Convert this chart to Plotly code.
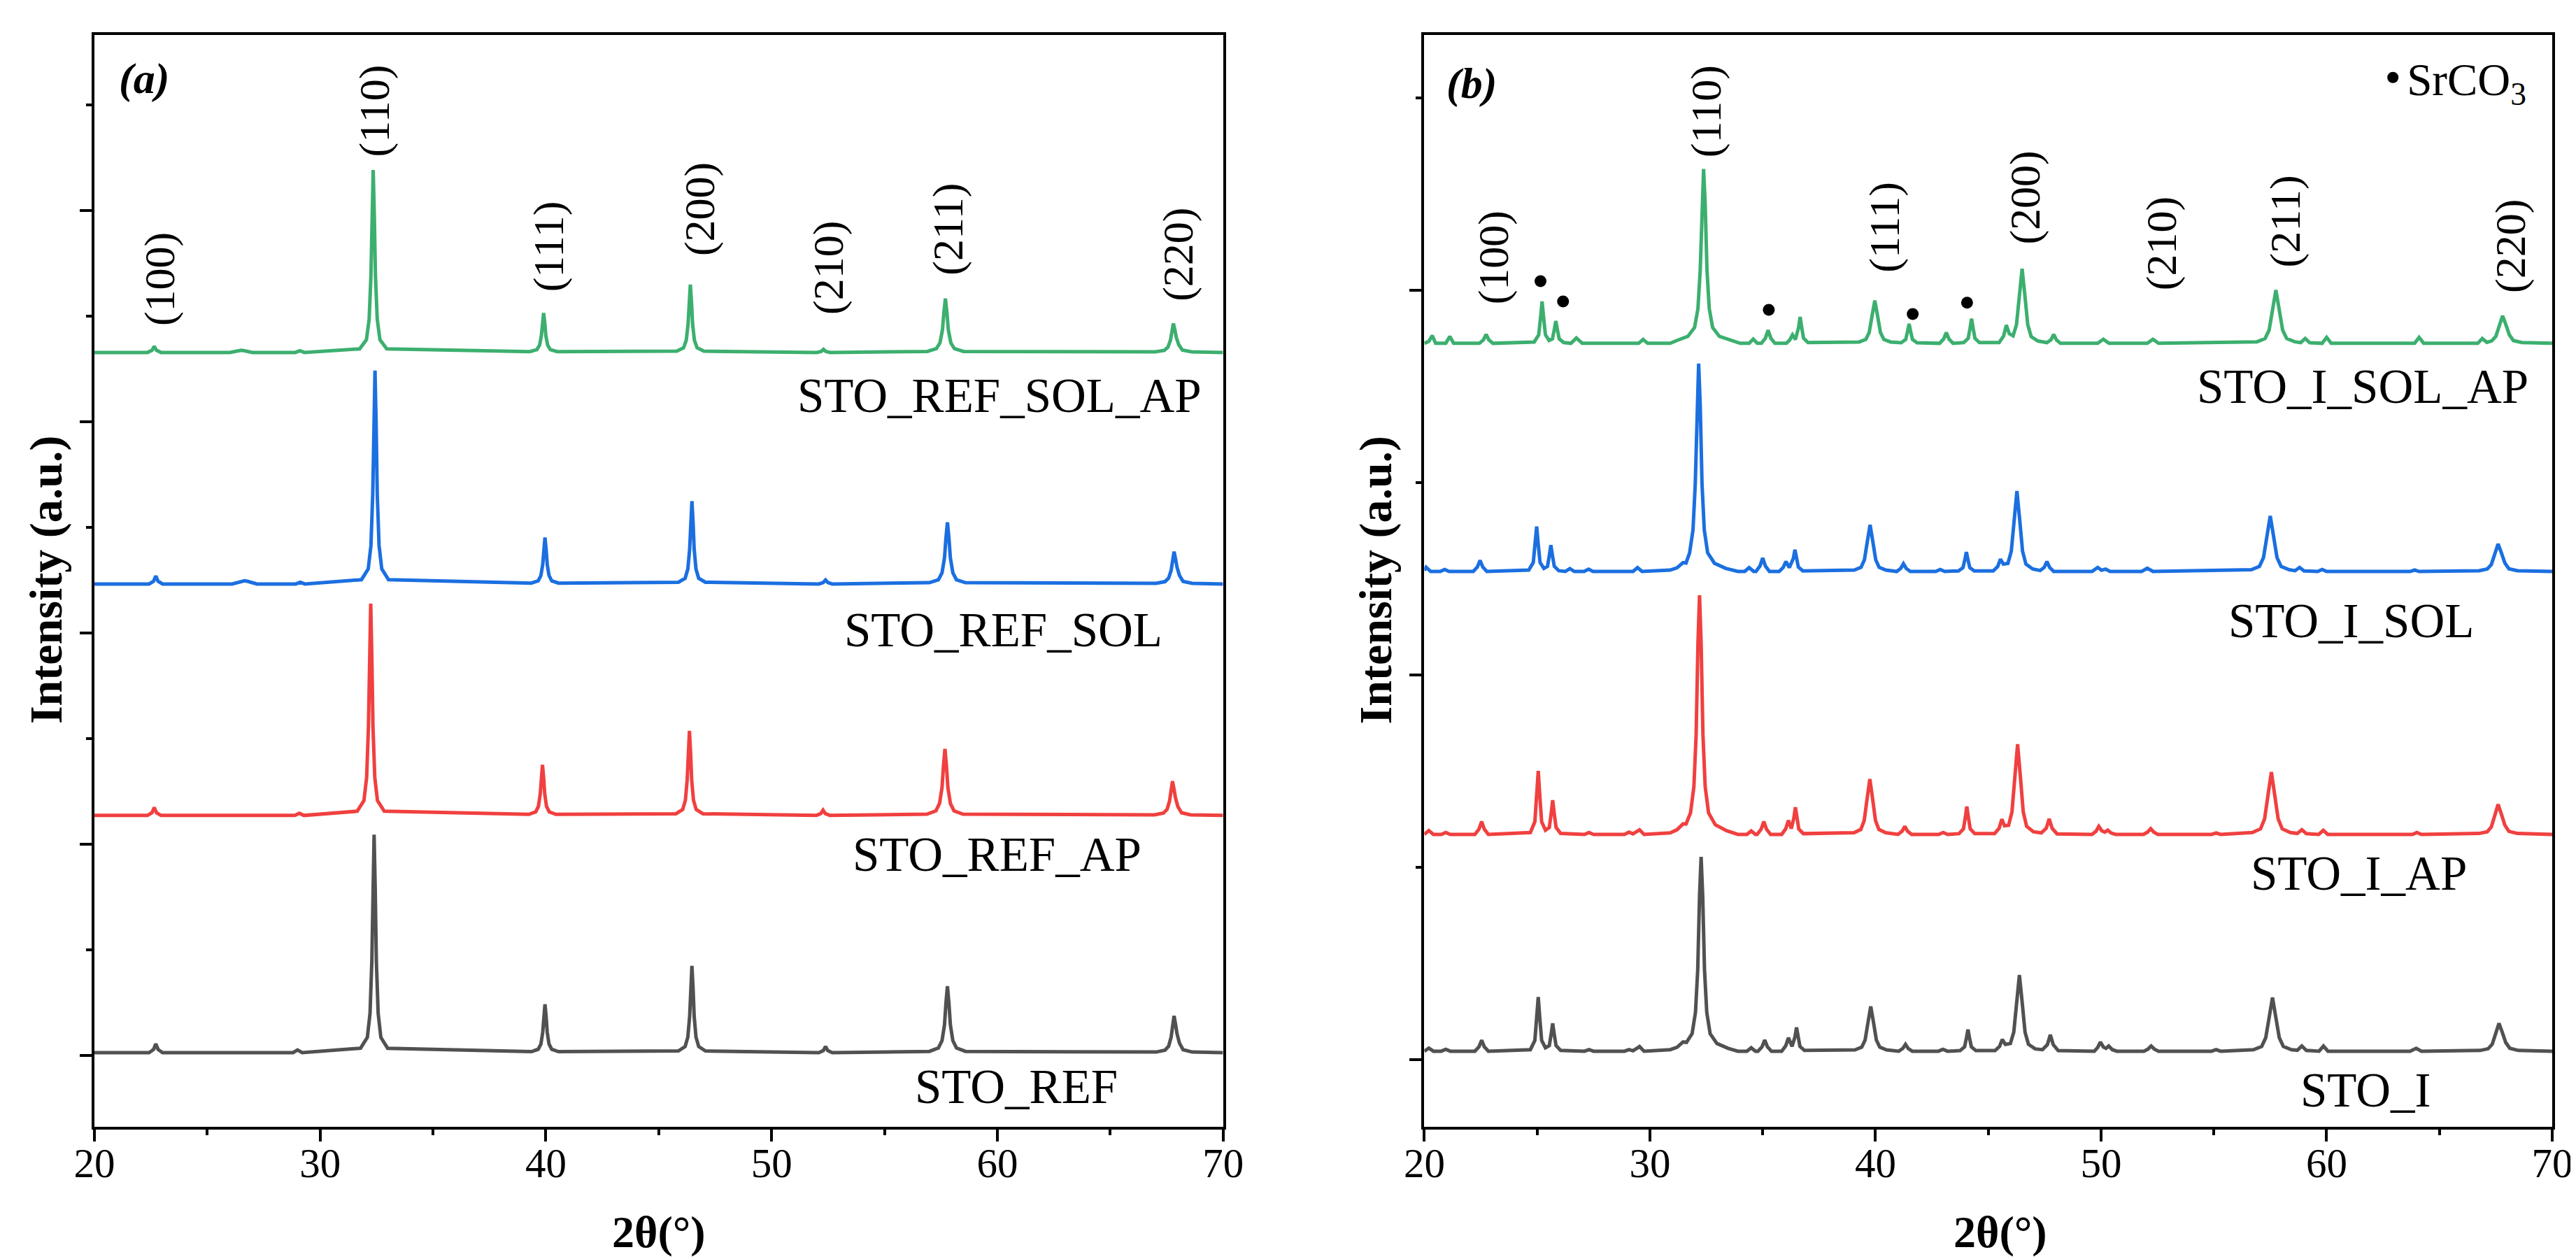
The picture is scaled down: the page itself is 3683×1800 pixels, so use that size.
import plotly.graph_objects as go

# ---------------- data ----------------
# panel (a): 2theta / intensity above each curve's own baseline
ref_x = [20.0, 22.42, 22.62, 22.72, 22.82, 23.02,
         28.8, 29.0, 29.2,
         31.79, 32.09, 32.21, 32.29, 32.34, 32.39, 32.44, 32.49, 32.57, 32.69, 32.99,
         39.36, 39.66, 39.78, 39.86, 39.91, 39.96, 40.01, 40.06, 40.14, 40.26, 40.56,
         45.87, 46.17, 46.29, 46.37, 46.42, 46.47, 46.52, 46.57, 46.65, 46.77, 47.07,
         52.09, 52.29, 52.39, 52.49, 52.69,
         56.99, 57.39, 57.55, 57.66, 57.725, 57.79, 57.855, 57.92, 58.03, 58.19, 58.59,
         67.03, 67.43, 67.59, 67.70, 67.765, 67.83, 67.895, 67.96, 68.07, 68.23, 68.63,
         70.0]
ref_y = [0, 0, 15, 42, 15, 0,
         0, 13, 0,
         21, 72, 186, 433, 774, 1032, 774, 433, 186, 72, 21,
         5, 16, 41, 96, 172, 229, 172, 96, 41, 16, 5,
         8, 29, 74, 173, 308, 411, 308, 173, 74, 29, 8,
         0, 10, 29, 10, 0,
         6, 22, 57, 132, 236, 315, 236, 132, 57, 22, 6,
         3, 12, 31, 73, 130, 174, 135, 90, 45, 14, 3,
         0]

ref_ap_x = [20.0, 22.35, 22.55, 22.65, 22.75, 22.95,
            28.88, 29.08, 29.28,
            31.64, 31.94, 32.06, 32.14, 32.19, 32.24, 32.29, 32.34, 32.42, 32.54, 32.84,
            39.25, 39.55, 39.67, 39.75, 39.80, 39.85, 39.90, 39.95, 40.03, 40.15, 40.45,
            45.76, 46.06, 46.18, 46.26, 46.31, 46.36, 46.41, 46.46, 46.54, 46.66, 46.96,
            51.98, 52.18, 52.28, 52.38, 52.58,
            56.88, 57.28, 57.44, 57.55, 57.615, 57.68, 57.745, 57.81, 57.92, 58.08, 58.48,
            66.96, 67.36, 67.52, 67.63, 67.695, 67.76, 67.825, 67.89, 68.00, 68.16, 68.56,
            70.0]
ref_ap_y = [0, 0, 13, 38, 13, 0,
            0, 10, 0,
            20, 70, 181, 421, 752, 1003, 752, 421, 181, 70, 20,
            5, 17, 43, 101, 180, 240, 180, 101, 43, 17, 5,
            8, 28, 72, 168, 301, 401, 301, 168, 72, 28, 8,
            0, 9, 25, 9, 0,
            6, 22, 57, 132, 236, 315, 236, 132, 57, 22, 6,
            3, 11, 29, 68, 122, 162, 126, 84, 42, 13, 3,
            0]

ref_sol_x = [20.0, 22.42, 22.62, 22.72, 22.82, 23.02,
             26.1, 26.5, 26.65, 26.8, 27.2,
             28.92, 29.12, 29.32,
             31.83, 32.13, 32.25, 32.33, 32.38, 32.43, 32.48, 32.53, 32.61, 32.73, 33.03,
             39.36, 39.66, 39.78, 39.86, 39.91, 39.96, 40.01, 40.06, 40.14, 40.26, 40.56,
             45.87, 46.17, 46.29, 46.37, 46.42, 46.47, 46.52, 46.57, 46.65, 46.77, 47.07,
             52.09, 52.29, 52.39, 52.49, 52.69,
             56.99, 57.39, 57.55, 57.66, 57.725, 57.79, 57.855, 57.92, 58.03, 58.19, 58.59,
             67.03, 67.43, 67.59, 67.70, 67.765, 67.83, 67.895, 67.96, 68.07, 68.23, 68.63,
             70.0]
ref_sol_y = [0, 0, 13, 38, 13, 0,
             0, 12, 15, 12, 0,
             0, 8, 0,
             20, 71, 182, 424, 758, 1010, 758, 424, 182, 71, 20,
             4, 15, 40, 92, 165, 220, 165, 92, 40, 15, 4,
             8, 27, 71, 165, 294, 392, 294, 165, 71, 27, 8,
             0, 7, 19, 7, 0,
             6, 20, 53, 123, 219, 292, 219, 123, 53, 20, 6,
             3, 11, 28, 64, 115, 153, 119, 79, 40, 12, 3,
             0]

ref_sol_ap_x = [20.0, 22.35, 22.55, 22.65, 22.75, 22.95,
                26.0, 26.35, 26.5, 26.65, 27.0,
                28.9, 29.1, 29.3,
                31.75, 32.05, 32.17, 32.25, 32.30, 32.35, 32.40, 32.45, 32.53, 32.65, 32.95,
                39.30, 39.60, 39.72, 39.80, 39.85, 39.90, 39.95, 40.00, 40.08, 40.20, 40.50,
                45.80, 46.10, 46.22, 46.30, 46.35, 46.40, 46.45, 46.50, 46.58, 46.70, 47.00,
                52.00, 52.20, 52.30, 52.40, 52.60,
                56.90, 57.30, 57.46, 57.57, 57.635, 57.70, 57.765, 57.83, 57.94, 58.10, 58.50,
                67.00, 67.40, 67.56, 67.67, 67.735, 67.80, 67.865, 67.93, 68.04, 68.20, 68.60,
                70.0]
ref_sol_ap_y = [0, 0, 10, 29, 10, 0,
                0, 8, 10, 8, 0,
                0, 8, 0,
                17, 60, 156, 363, 648, 864, 648, 363, 156, 60, 17,
                4, 13, 34, 79, 140, 187, 140, 79, 34, 13, 4,
                6, 22, 58, 135, 241, 321, 241, 135, 58, 22, 6,
                0, 5, 15, 5, 0,
                5, 18, 46, 107, 191, 255, 191, 107, 46, 18, 5,
                3, 10, 25, 58, 103, 137, 107, 71, 36, 11, 3,
                0]

# panel (b)
i_x = [20.0, 20.2, 20.4, 20.75, 20.95, 21.15, 22.24, 22.42, 22.54, 22.66, 22.84,
       24.70, 24.90, 24.98, 25.05, 25.12, 25.20, 25.37, 25.54, 25.62, 25.69, 25.76, 25.84, 26.04,
       27.1, 27.3, 27.5, 28.87, 29.07, 29.25, 29.54, 29.74,
       30.9, 31.2, 31.47, 31.62, 31.87, 32.02, 32.12, 32.2, 32.27, 32.34, 32.42, 32.52, 32.67, 32.97, 33.47, 33.9,
       34.3, 34.49, 34.68, 34.79, 34.97, 35.09, 35.21, 35.39,
       35.84, 36.02, 36.14, 36.3, 36.43, 36.5, 36.57, 36.65, 36.85,
       39.09, 39.39, 39.54, 39.67, 39.79, 39.91, 40.04, 40.19, 40.49,
       41.03, 41.21, 41.33, 41.45, 41.63, 42.79, 42.99, 43.19,
       43.75, 43.95, 44.03, 44.1, 44.17, 44.25, 44.45,
       45.3, 45.5, 45.62, 45.76, 45.98, 46.13, 46.26, 46.38, 46.50, 46.63, 46.78, 47.08,
       47.4, 47.62, 47.75, 47.88, 48.1,
       49.7, 49.85, 49.97, 50.1, 50.22, 50.34, 50.5, 50.7,
       51.9, 52.08, 52.22, 52.36, 52.55, 54.9, 55.1, 55.3,
       56.76, 57.12, 57.3, 57.46, 57.6, 57.74, 57.9, 58.08, 58.44,
       58.7, 58.9, 59.1, 59.66, 59.86, 60.06, 63.7, 63.97, 64.2,
       66.8, 67.16, 67.34, 67.5, 67.64, 67.78, 67.94, 68.12, 68.5, 70.0]
i_y = [0, 16, 0, 0, 10, 0, 0, 23, 57, 23, 0,
       8, 56, 169, 282, 169, 56, 18, 29, 87, 145, 87, 29, 4,
       0, 8, 0, 0, 8, 2, 24, 0,
       8, 20, 48, 46, 91, 202, 424, 808, 1010, 808, 424, 202, 91, 40, 15, 0,
       0, 18, 0, 0, 23, 58, 23, 0,
       0, 28, 70, 25, 74, 124, 74, 25, 4,
       7, 21, 58, 151, 233, 151, 58, 21, 7,
       0, 14, 36, 14, 0, 0, 10, 0,
       3, 23, 68, 113, 68, 23, 3,
       3, 25, 61, 35, 40, 99, 257, 396, 257, 99, 36, 12,
       8, 34, 85, 34, 3,
       0, 19, 48, 22, 15, 27, 8, 0,
       0, 11, 27, 11, 0, 0, 8, 0,
       8, 25, 70, 181, 279, 181, 70, 25, 8,
       5, 27, 4, 0, 27, 0, 0, 15, 0,
       4, 13, 36, 94, 145, 100, 45, 15, 4, 0]

i_ap_x = [20.0, 20.2, 20.4, 20.75, 20.95, 21.15, 22.24, 22.42, 22.54, 22.66, 22.84,
          24.70, 24.90, 24.98, 25.05, 25.12, 25.20, 25.37, 25.54, 25.62, 25.69, 25.76, 25.84, 26.04,
          27.1, 27.3, 27.5, 28.87, 29.07, 29.25, 29.54, 29.74,
          30.9, 31.2, 31.47, 31.6, 31.8, 31.95, 32.05, 32.13, 32.2, 32.27, 32.35, 32.45, 32.6, 32.9, 33.4, 33.9,
          34.3, 34.49, 34.68, 34.75, 34.93, 35.05, 35.17, 35.35,
          35.84, 36.02, 36.14, 36.27, 36.38, 36.45, 36.52, 36.6, 36.8,
          39.05, 39.35, 39.5, 39.63, 39.75, 39.87, 40.0, 40.15, 40.45,
          41.0, 41.18, 41.3, 41.42, 41.6, 42.8, 43.0, 43.2,
          43.7, 43.9, 43.98, 44.05, 44.12, 44.2, 44.4,
          45.28, 45.48, 45.6, 45.72, 45.9, 46.05, 46.18, 46.3, 46.42, 46.55, 46.7, 47.0,
          47.35, 47.57, 47.7, 47.83, 48.05,
          49.6, 49.78, 49.9, 50.03, 50.17, 50.3, 50.45, 50.65,
          51.88, 52.06, 52.2, 52.34, 52.52, 54.9, 55.1, 55.3,
          56.71, 57.07, 57.25, 57.41, 57.55, 57.69, 57.85, 58.03, 58.39,
          58.7, 58.9, 59.1, 59.65, 59.85, 60.05, 63.8, 64.0, 64.2,
          66.76, 67.12, 67.3, 67.46, 67.6, 67.74, 67.9, 68.08, 68.46, 70.0]
i_ap_y = [0, 20, 0, 0, 10, 0, 0, 27, 67, 27, 0,
          10, 66, 198, 330, 198, 66, 22, 36, 107, 178, 107, 36, 5,
          0, 10, 0, 0, 12, 3, 24, 0,
          8, 24, 55, 54, 112, 249, 522, 994, 1243, 994, 522, 249, 112, 50, 19, 0,
          0, 18, 0, 0, 27, 67, 27, 0,
          0, 29, 73, 30, 85, 141, 85, 28, 4,
          9, 26, 72, 187, 288, 187, 72, 26, 9,
          0, 17, 42, 17, 0, 0, 10, 0,
          4, 29, 87, 145, 87, 29, 4,
          4, 32, 79, 45, 47, 117, 305, 469, 305, 117, 42, 14,
          8, 32, 81, 32, 3,
          0, 17, 42, 19, 12, 22, 7, 0,
          0, 12, 30, 12, 0, 0, 8, 0,
          10, 29, 81, 211, 324, 211, 81, 29, 10,
          5, 24, 4, 0, 21, 0, 0, 10, 0,
          5, 14, 39, 101, 156, 108, 48, 16, 5, 0]

i_sol_x = [20.0, 20.08, 20.28, 20.7, 20.9, 21.1, 22.17, 22.35, 22.47, 22.59, 22.77,
           24.63, 24.83, 24.91, 24.98, 25.05, 25.13, 25.3, 25.46, 25.54, 25.61, 25.68, 25.76, 25.96,
           26.25, 26.45, 26.65, 27.08, 27.28, 27.48, 29.25, 29.45, 29.65,
           30.9, 31.2, 31.47, 31.6, 31.76, 31.91, 32.01, 32.09, 32.16, 32.23, 32.31, 32.41, 32.56, 32.86, 33.36, 33.9,
           34.2, 34.4, 34.6, 34.7, 34.88, 35.0, 35.12, 35.3,
           35.73, 35.91, 36.03, 36.18, 36.36, 36.43, 36.5, 36.58, 36.78,
           39.06, 39.36, 39.51, 39.64, 39.76, 39.88, 40.01, 40.16, 40.46,
           40.94, 41.12, 41.24, 41.36, 41.54, 42.67, 42.87, 43.07,
           43.68, 43.88, 43.96, 44.03, 44.1, 44.18, 44.38,
           45.22, 45.42, 45.54, 45.67, 45.87, 46.02, 46.15, 46.27, 46.39, 46.52, 46.67, 46.97,
           47.3, 47.48, 47.6, 47.72, 47.9,
           49.6, 49.85, 50.02, 50.2, 50.4,
           51.8, 52.05, 52.3,
           56.66, 57.02, 57.2, 57.36, 57.5, 57.64, 57.8, 57.98, 58.34,
           58.6, 58.8, 59.0, 59.6, 59.8, 60.0, 63.7, 63.9, 64.1,
           66.76, 67.12, 67.3, 67.46, 67.6, 67.74, 67.9, 68.08, 68.46, 70.0]
i_sol_y = [5, 22, 0, 0, 10, 0, 0, 23, 58, 23, 0,
           7, 47, 140, 234, 140, 47, 16, 27, 82, 137, 82, 27, 4,
           0, 15, 0, 0, 12, 0, 0, 20, 0,
           7, 19, 46, 44, 97, 216, 454, 865, 1081, 865, 454, 216, 97, 43, 16, 0,
           0, 20, 0, 0, 28, 70, 28, 0,
           0, 21, 52, 20, 68, 113, 68, 23, 3,
           7, 22, 61, 157, 242, 157, 61, 22, 7,
           0, 16, 40, 16, 0, 0, 10, 0,
           3, 20, 61, 101, 61, 20, 3,
           3, 26, 64, 38, 42, 105, 272, 418, 272, 105, 38, 13,
           5, 21, 52, 21, 0,
           0, 21, 6, 12, 0,
           0, 17, 0,
           9, 26, 72, 188, 289, 188, 72, 26, 9,
           4, 21, 3, 0, 10, 0, 0, 8, 0,
           4, 13, 36, 93, 143, 99, 44, 14, 4, 0]

i_sol_ap_x = [20.0, 20.2, 20.35, 20.5, 20.95, 21.13, 21.3, 22.44, 22.62, 22.74, 22.86, 23.04,
              24.87, 25.07, 25.15, 25.22, 25.29, 25.37, 25.53, 25.68, 25.76, 25.83, 25.9, 25.98, 26.18,
              26.5, 26.74, 27.0, 29.5, 29.7, 29.9,
              30.9, 31.18, 31.68, 31.98, 32.13, 32.23, 32.31, 32.38, 32.45, 32.53, 32.63, 32.78, 33.08, 33.58, 34.0,
              34.4, 34.58, 34.76, 34.94, 35.12, 35.24, 35.36, 35.54,
              36.05, 36.2, 36.32, 36.45, 36.59, 36.66, 36.73, 36.81, 37.01,
              39.27, 39.57, 39.72, 39.85, 39.97, 40.09, 40.22, 40.37, 40.67,
              41.14, 41.34, 41.42, 41.49, 41.56, 41.64, 41.84,
              42.84, 43.02, 43.14, 43.26, 43.44, 43.91, 44.11, 44.19, 44.26, 44.33, 44.41, 44.61,
              45.48, 45.68, 45.8, 45.93, 46.1, 46.25, 46.38, 46.5, 46.62, 46.75, 46.9, 47.2,
              47.6, 47.78, 47.9, 48.02, 48.2,
              49.85, 50.1, 50.35, 52.05, 52.3, 52.55,
              56.91, 57.27, 57.45, 57.61, 57.75, 57.89, 58.05, 58.23, 58.59,
              58.85, 59.05, 59.25, 59.8, 60.0, 60.2, 63.9, 64.1, 64.3, 66.7, 66.9, 67.1,
              67.32, 67.5, 67.66, 67.8, 67.94, 68.1, 68.28, 68.66, 70.0]
i_sol_ap_y = [0, 10, 40, 0, 0, 36, 0, 0, 18, 46, 18, 0,
              7, 44, 131, 218, 131, 44, 15, 23, 70, 116, 70, 23, 4,
              0, 28, 0, 0, 20, 0,
              0, 14, 36, 82, 181, 381, 725, 906, 725, 381, 181, 82, 36, 14, 0,
              0, 22, 0, 0, 27, 68, 27, 0,
              0, 18, 44, 20, 82, 137, 82, 27, 4,
              7, 20, 56, 144, 222, 144, 56, 20, 7,
              3, 20, 61, 101, 61, 20, 3,
              0, 22, 56, 22, 0, 4, 26, 77, 128, 77, 26, 4,
              4, 38, 95, 50, 39, 97, 252, 388, 252, 97, 35, 12,
              4, 18, 46, 18, 0,
              0, 21, 0, 0, 21, 0,
              8, 25, 69, 180, 277, 180, 69, 25, 8,
              4, 25, 3, 0, 31, 0, 0, 31, 0, 0, 25, 5,
              13, 36, 93, 143, 99, 44, 14, 4, 0]

# SrCO3 impurity markers on the top curve of (b)
srco3_x = [25.15, 26.15, 35.27, 41.65, 44.06]
srco3_y = [4047, 3942, 3898, 3876, 3935]

names_a = ["STO_REF", "STO_REF_AP", "STO_REF_SOL", "STO_REF_SOL_AP"]
names_b = ["STO_I", "STO_I_AP", "STO_I_SOL", "STO_I_SOL_AP"]
offsets_a = [13, 1136, 2232, 3328]
offsets_b = [44, 1171, 2538, 3724]
hkl = ["(100)", "(110)", "(111)", "(200)", "(210)", "(211)", "(220)"]

colors = ["#515151", "#F0403F", "#1B6FE0", "#3CAF6F"]
serif = "Liberation Serif"

curves_a = [(ref_x, ref_y), (ref_ap_x, ref_ap_y), (ref_sol_x, ref_sol_y), (ref_sol_ap_x, ref_sol_ap_y)]
curves_b = [(i_x, i_y), (i_ap_x, i_ap_y), (i_sol_x, i_sol_y), (i_sol_ap_x, i_sol_ap_y)]

fig = go.Figure()

for (xs, ys), off, c in zip(curves_a, offsets_a, colors):
    assert len(xs) == len(ys)
    fig.add_trace(go.Scatter(x=xs, y=[v + off for v in ys], mode="lines",
                             line=dict(color=c, width=5), showlegend=False,
                             xaxis="x", yaxis="y"))

for (xs, ys), off, c in zip(curves_b, offsets_b, colors):
    assert len(xs) == len(ys)
    fig.add_trace(go.Scatter(x=xs, y=[v + off for v in ys], mode="lines",
                             line=dict(color=c, width=5), showlegend=False,
                             xaxis="x2", yaxis="y2"))

fig.add_trace(go.Scatter(x=srco3_x, y=srco3_y, mode="markers", name="SrCO<sub>3</sub>",
                         marker=dict(color="black", size=17), showlegend=True,
                         xaxis="x2", yaxis="y2"))

# ---------------- labels ----------------
ann = []
# peak labels: (2theta, height) of the label centre
hkl_pos_a = [(22.88, 3675), (32.41, 4470), (40.15, 3831), (46.84, 4007),
             (52.5, 3728), (57.83, 3911), (67.99, 3791)]
hkl_pos_b = [(23.1, 4171), (32.52, 4931), (40.38, 4327), (46.64, 4480),
             (52.68, 4244), (58.17, 4360), (68.17, 4229)]
for lab, (px, py) in zip(hkl, hkl_pos_a):
    ann.append(dict(x=px, y=py, xref="x", yref="y", text=lab, textangle=-90,
                    xanchor="center", yanchor="middle", showarrow=False,
                    font=dict(family=serif, size=62, color="black")))
for lab, (px, py) in zip(hkl, hkl_pos_b):
    ann.append(dict(x=px, y=py, xref="x2", yref="y2", text=lab, textangle=-90,
                    xanchor="center", yanchor="middle", showarrow=False,
                    font=dict(family=serif, size=62, color="black")))

name_pos_a = [(60.84, -149), (60.0, 950), (60.28, 2013), (60.09, 3123)]
name_pos_b = [(61.73, -160), (61.42, 967), (61.08, 2280), (61.6, 3498)]
for lab, (px, py) in zip(names_a, name_pos_a):
    ann.append(dict(x=px, y=py, xref="x", yref="y", text=lab, showarrow=False,
                    xanchor="center", yanchor="middle",
                    font=dict(family=serif, size=69, color="black")))
for lab, (px, py) in zip(names_b, name_pos_b):
    ann.append(dict(x=px, y=py, xref="x2", yref="y2", text=lab, showarrow=False,
                    xanchor="center", yanchor="middle",
                    font=dict(family=serif, size=69, color="black")))

ann.append(dict(x=22.2, y=4623, xref="x", yref="y", text="<b><i>(a)</i></b>", showarrow=False,
                xanchor="center", yanchor="middle", font=dict(family=serif, size=62, color="black")))
ann.append(dict(x=22.1, y=5076, xref="x2", yref="y2", text="<b><i>(b)</i></b>", showarrow=False,
                xanchor="center", yanchor="middle", font=dict(family=serif, size=62, color="black")))

# axis titles
for xp in [-0.0196, 0.5212]:
    ann.append(dict(x=xp, y=0.501, xref="paper", yref="paper", text="<b>Intensity (a.u.)</b>",
                    textangle=-90, xanchor="center", yanchor="middle", showarrow=False,
                    font=dict(family=serif, size=66, color="black")))
for xp in [0.2297, 0.7754]:
    ann.append(dict(x=xp, y=-0.0967, xref="paper", yref="paper", text="<b>2θ(°)</b>",
                    xanchor="center", yanchor="middle", showarrow=False,
                    font=dict(family=serif, size=64, color="black")))

xcommon = dict(range=[20, 70], tick0=20, dtick=10, ticks="outside", ticklen=17, tickwidth=4,
               tickcolor="black", showline=True, linewidth=4, linecolor="black", mirror=True,
               showgrid=False, zeroline=False, ticklabelstandoff=-20,
               tickfont=dict(family=serif, size=59, color="black"),
               minor=dict(dtick=5, ticks="outside", ticklen=8, tickwidth=4, tickcolor="black",
                          showgrid=False))
ycommon = dict(ticks="outside", ticklen=17, tickwidth=4, tickcolor="black", showline=True,
               linewidth=4, linecolor="black", mirror=True, showgrid=False, zeroline=False,
               showticklabels=False, tick0=0)

fig.update_layout(
    width=3683, height=1800,
    margin=dict(l=127, r=39, t=42, b=197),
    paper_bgcolor="white", plot_bgcolor="white",
    xaxis=dict(domain=[0, 0.4592], anchor="y", **xcommon),
    xaxis2=dict(domain=[0.5411, 1], anchor="y2", **xcommon),
    yaxis=dict(range=[-338, 4831], dtick=1000, anchor="x",
               minor=dict(dtick=500, ticks="outside", ticklen=8, tickwidth=4,
                          tickcolor="black", showgrid=False), **ycommon),
    yaxis2=dict(range=[-349, 5327], dtick=2000, anchor="x2",
                minor=dict(dtick=1000, ticks="outside", ticklen=8, tickwidth=4,
                           tickcolor="black", showgrid=False), **ycommon),
    legend=dict(x=(3396 - 127) / 3517, y=(1603 - 103) / 1561, xanchor="left", yanchor="middle",
                font=dict(family=serif, size=65, color="black"), bgcolor="rgba(0,0,0,0)"),
    annotations=ann,
)

fig.write_html("out.html")
